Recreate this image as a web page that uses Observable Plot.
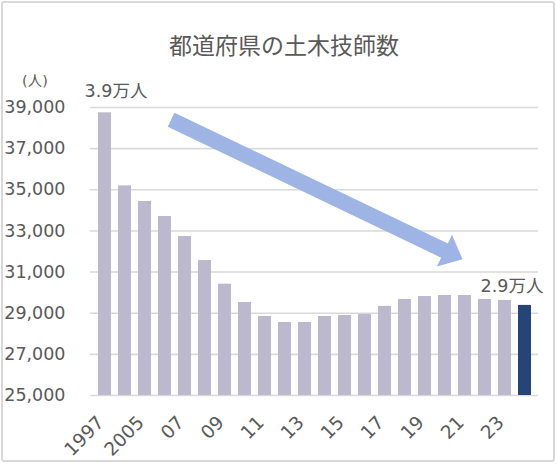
<!DOCTYPE html>
<html>
<head>
<meta charset="utf-8">
<script src="https://cdn.jsdelivr.net/npm/d3@7"></script>
<script src="https://cdn.jsdelivr.net/npm/@observablehq/plot@0.6"></script>
<style>
  html, body { margin: 0; padding: 0; background: #fff; }
  #wrap { position: relative; width: 557px; height: 464px; overflow: hidden; font-family: "DejaVu Sans", "Noto Sans CJK JP", sans-serif; }
  #frame { position: absolute; left: 1px; top: 1px; width: 554px; height: 461px; box-sizing: border-box; border: 2px solid #d9d9d9; border-radius: 3px; }
  #title { position: absolute; left: 0; width: 568px; top: 28px; text-align: center; font-family: "Noto Sans CJK JP", sans-serif; font-size: 23px; color: #595959; line-height: 32px; }
  #unit { position: absolute; left: 22px; top: 69px; font-family: "DejaVu Sans", "Noto Sans CJK JP", sans-serif; font-size: 14.5px; color: #595959; }
  #chart { position: absolute; left: 0; top: 0; }
</style>
</head>
<body>
<div id="wrap">
  <div id="frame"></div>
  <div id="title">都道府県の土木技師数</div>
  <div id="unit">(人)</div>
  <div id="chart"></div>
</div>
<script>
const years = ["1997","2001","2005","2006","2007","2008","2009","2010","2011","2012","2013","2014","2015","2016","2017","2018","2019","2020","2021","2022","2023","2024"];
const counts = [38740,35190,34430,33700,32730,31560,30410,29520,28840,28550,28550,28840,28890,28940,29330,29670,29810,29860,29860,29670,29620,29380];
const highlightYear = "2024";
const tickYears = ["1997","2005","2007","2009","2011","2013","2015","2017","2019","2021","2023"];
const tickTexts = ["1997","2005","07","09","11","13","15","17","19","21","23"];
const yTicks = [25000,27000,29000,31000,33000,35000,37000,39000];
const firstNote = {year: "1997", text: "3.9万人"};
const lastNote = {year: "2024", text: "2.9万人"};
// trend arrow anchors: fractional bar index and value
const arrowFrom = {pos: 3.33, value: 38380};
const arrowTo = {pos: 17.9, value: 31600};

const data = years.map((y, i) => ({year: y, value: counts[i]}));
const noteRow = n => [{year: n.year, value: counts[years.indexOf(n.year)], text: n.text}];
const tickLabel = new Map(tickYears.map((y, i) => [y, tickTexts[i]]));

const textColor = "#595959";
const font = '"DejaVu Sans", "Noto Sans CJK JP", sans-serif';

function arrowMark(index, scales) {
  const x = scales.x, y = scales.y;
  const bw = typeof x.bandwidth === "function" ? x.bandwidth() : 0;
  const step = typeof x.step === "function" ? x.step() : (x(years[1]) - x(years[0]));
  const px = p => x(years[0]) + bw / 2 + p * step;
  const x0 = px(arrowFrom.pos), y0 = y(arrowFrom.value);
  const x1 = px(arrowTo.pos), y1 = y(arrowTo.value);
  const dx = x1 - x0, dy = y1 - y0, L = Math.hypot(dx, dy);
  const ux = dx / L, uy = dy / L, nx = -uy, ny = ux;
  const sw = 7.8, hw = 17.5, hl = 20;
  const bx = x1 - ux * hl, by = y1 - uy * hl;
  const pts = [
    [x0 + nx * sw, y0 + ny * sw],
    [bx + nx * sw, by + ny * sw],
    [bx + nx * hw, by + ny * hw],
    [x1, y1],
    [bx - nx * hw, by - ny * hw],
    [bx - nx * sw, by - ny * sw],
    [x0 - nx * sw, y0 - ny * sw]
  ];
  const path = d3.create("svg:path")
    .attr("d", "M" + pts.map(p => p.join(",")).join("L") + "Z")
    .attr("fill", "#9db4e4");
  return path.node();
}

const chart = Plot.plot({
  width: 557,
  height: 464,
  marginLeft: 90,
  marginRight: 19,
  marginTop: 107,
  marginBottom: 69,
  style: {background: "transparent", overflow: "visible", fontFamily: font},
  x: {type: "band", domain: years, paddingInner: 0.36, paddingOuter: 0.18, align: 0.5},
  y: {domain: [25000, 39000]},
  marks: [
    Plot.gridY(yTicks, {stroke: "#d9d9d9", strokeOpacity: 1, strokeWidth: 1.6}),
    Plot.barY(data, {x: "year", y1: 25000, y2: "value", fill: d => d.year === highlightYear ? "#264478" : "#bcb8cd", inset: 0}),
    Plot.axisY({ticks: yTicks, tickFormat: d3.format(","), tickSize: 0, tickPadding: 25, fontSize: 17.5, fill: textColor, label: null}),
    Plot.axisX({ticks: tickYears, tickFormat: d => tickLabel.get(d), tickSize: 0, tickPadding: 24, dx: -4, tickRotate: -45, fontSize: 18.5, fill: textColor, label: null}),
    arrowMark,
    Plot.text(noteRow(firstNote), {x: "year", y: "value", text: "text", dx: 11, dy: -21, fontSize: 17.5, fill: textColor, fontFamily: font}),
    Plot.text(noteRow(lastNote), {x: "year", y: "value", text: "text", dx: -13, dy: -19, fontSize: 17.5, fill: textColor, fontFamily: font})
  ]
});
document.getElementById("chart").appendChild(chart);
</script>
</body>
</html>
